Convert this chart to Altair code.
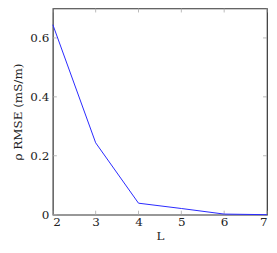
import altair as alt
import pandas as pd

L = [2, 3, 4, 5, 6, 7]
rmse = [0.645, 0.244, 0.039, 0.021, 0.002, 0.0]
x_ticks = [2, 3, 4, 5, 6, 7]
y_ticks = [0, 0.2, 0.4, 0.6]

df = pd.DataFrame({"L": L, "rmse": rmse})
xt = pd.DataFrame({"v": x_ticks})
yt = pd.DataFrame({"v": y_ticks})

W, H = 215, 207
FONT = "DejaVu Serif"

xs = alt.Scale(domain=[2, 7], nice=False)
ys = alt.Scale(domain=[0, 0.7], nice=False)

line = alt.Chart(df).mark_line(color="#2a2aff", strokeWidth=1).encode(
    x=alt.X("L:Q", scale=xs, title="L",
            axis=alt.Axis(values=x_ticks, format="d", ticks=False, domain=False,
                          labelFont=FONT, labelFontSize=12, labelColor="#222",
                          labelPadding=2, titleFont=FONT, titleFontSize=12,
                          titleFontWeight="normal", titleColor="#222", titlePadding=3,
                          grid=False)),
    y=alt.Y("rmse:Q", scale=ys, title="ρ RMSE (mS/m)",
            axis=alt.Axis(values=y_ticks, ticks=False, domain=False,
                          labelExpr="datum.value == 0 ? '0' : format(datum.value, '.1f')",
                          labelFont=FONT, labelFontSize=12, labelColor="#222",
                          labelPadding=4, titleFont=FONT, titleFontSize=12,
                          titleFontWeight="normal", titleColor="#222", titlePadding=5,
                          grid=False)),
)

tc = "#aaaaaa"
yl = alt.Chart(yt).mark_rule(color=tc, strokeWidth=0.8).encode(
    y=alt.Y("v:Q", scale=ys), x=alt.value(0), x2=alt.value(4))
yr = alt.Chart(yt).mark_rule(color=tc, strokeWidth=0.8).encode(
    y=alt.Y("v:Q", scale=ys), x=alt.value(W - 4), x2=alt.value(W))
xb = alt.Chart(xt).mark_rule(color=tc, strokeWidth=0.8).encode(
    x=alt.X("v:Q", scale=xs), y=alt.value(H - 4), y2=alt.value(H))
xtp = alt.Chart(xt).mark_rule(color=tc, strokeWidth=0.8).encode(
    x=alt.X("v:Q", scale=xs), y=alt.value(0), y2=alt.value(4))

chart = alt.layer(yl, yr, xb, xtp, line).properties(
    width=W, height=H,
    autosize=alt.AutoSizeParams(type="none"),
    padding={"left": 45, "top": 0, "right": 2, "bottom": 40},
).configure(background="white", font=FONT).configure_view(stroke="#333", strokeWidth=1.2)

chart.save("out.html", embed_options={"renderer": "svg", "actions": False})
